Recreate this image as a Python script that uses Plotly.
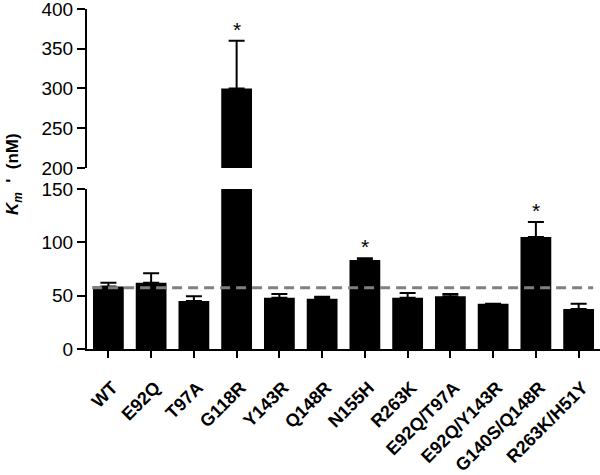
import plotly.graph_objects as go

categories = ["WT", "E92Q", "T97A", "G118R", "Y143R", "Q148R", "N155H",
              "R263K", "E92Q/T97A", "E92Q/Y143R", "G140S/Q148R", "R263K/H51Y"]
km_values = [58.5, 62, 45, 300, 48, 47, 83.5, 48, 49.5, 42.5, 105, 37.5]
km_errors = [3.5, 9, 4.5, 60, 3.5, 2, 1.5, 4.5, 2, 0, 14, 5]
significant = [False, False, False, True, False, False, True, False, False, False, True, False]
wt_reference = 57.5
lower_ticks = [0, 50, 100, 150]
upper_ticks = [200, 250, 300, 350, 400]

FONT = "Liberation Sans, Arial, sans-serif"

fig = go.Figure()
for yax in ["y", "y2"]:
    fig.add_trace(go.Bar(
        x=categories, y=km_values, yaxis=yax, xaxis="x",
        width=0.72,
        marker=dict(color="black", line=dict(width=0)),
        error_y=dict(type="data", symmetric=False, array=km_errors,
                     arrayminus=[0] * len(km_errors),
                     color="black", thickness=2, width=8),
        showlegend=False,
    ))

fig.add_shape(type="line", xref="x", yref="y", x0=-0.38, x1=11.34,
              y0=wt_reference, y1=wt_reference, layer="above",
              line=dict(color="#808080", width=3, dash="10px,6px"))

for cat, v, e, s in zip(categories, km_values, km_errors, significant):
    if s:
        top = v + e
        fig.add_annotation(x=cat, y=top, xref="x", yref="y2" if top > 150 else "y",
                           text="*", showarrow=False, yanchor="bottom", yshift=-2,
                           font=dict(family=FONT, size=21, color="black"))

fig.add_annotation(xref="paper", yref="paper", x=-0.1423, y=0.5147,
                   text="<b><i>K<sub>m</sub></i>&nbsp;&nbsp;'&nbsp;&nbsp;(nM)</b>",
                   textangle=-90,
                   showarrow=False, xanchor="center", yanchor="middle",
                   font=dict(family=FONT, size=17, color="black"))

axis_common = dict(showline=True, linewidth=2, linecolor="black", ticks="outside",
                   ticklen=8, tickwidth=2, tickcolor="black", showgrid=False,
                   zeroline=False, automargin=False, ticklabeloverflow="allow",
                   tickfont=dict(family=FONT, size=19, color="black"))

fig.update_layout(
    width=600, height=475,
    margin=dict(l=87, r=0, t=9, b=126),
    plot_bgcolor="white", paper_bgcolor="white",
    xaxis=dict(domain=[0, 1], range=[-0.5, 11.5], anchor="y", automargin=False,
               showline=True, linewidth=2, linecolor="black", ticks="outside",
               ticklen=7, tickwidth=2, tickcolor="black", showgrid=False,
               tickangle=-45, ticklabelstandoff=12, ticklabelshift=4,
               ticklabeloverflow="allow",
               tickfont=dict(family=FONT, size=18, color="black", weight="bold")),
    yaxis=dict(domain=[0, 0.4706], range=[0, 150], tickvals=lower_ticks,
               anchor="x", **axis_common),
    yaxis2=dict(domain=[0.5324, 1], range=[200, 400], tickvals=upper_ticks,
                anchor="x", **axis_common),
)

fig.write_html("out.html", config={"displayModeBar": False},
               post_script="document.body.style.margin='0px';")
